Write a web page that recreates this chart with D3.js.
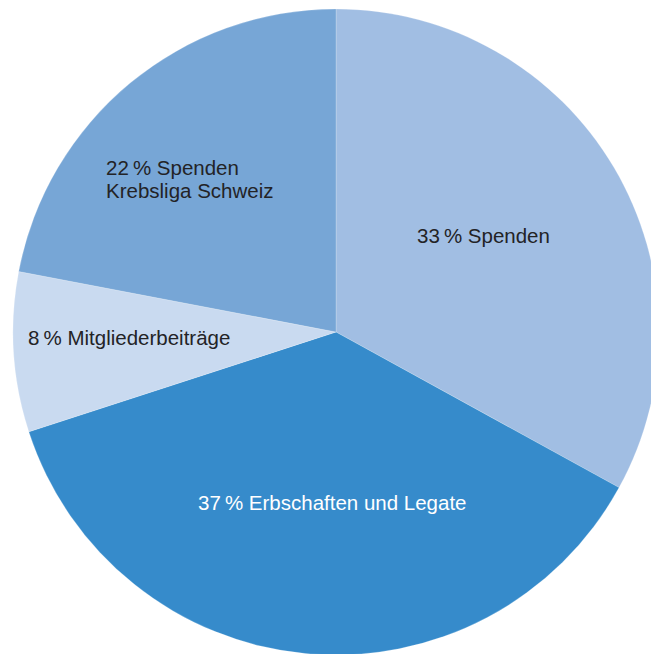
<!DOCTYPE html>
<html>
<head>
<meta charset="utf-8">
<script src="https://cdn.jsdelivr.net/npm/d3@7"></script>
<style>
  html, body { margin: 0; padding: 0; background: #fff; }
  svg { display: block; }
</style>
</head>
<body>
<svg id="chart" width="651" height="654"></svg>
<script>
// Data
const categories = ["Spenden", "Erbschaften und Legate", "Mitgliederbeiträge", "Spenden Krebsliga Schweiz"];
const values = [33, 37, 8, 22];
const labelLines = [
  ["33\u2009% Spenden"],
  ["37\u2009% Erbschaften und Legate"],
  ["8\u2009% Mitgliederbeiträge"],
  ["22\u2009% Spenden", "Krebsliga Schweiz"]
];
const colors = ["#a1bee3", "#368bcb", "#c9daf0", "#77a6d6"];
const textColors = ["#232326", "#ffffff", "#232326", "#232326"];

// Layout (label anchor offsets relative to pie center: left x, first baseline y)
const labelOffsets = [[81, -89], [-138, 178], [-308, 13], [-230, -157]];

const width = 651, height = 654;
const cx = 336, cy = 332, radius = 323;

const svg = d3.select("#chart");
const g = svg.append("g").attr("transform", `translate(${cx},${cy})`);

const data = categories.map((c, i) => ({ name: c, value: values[i], i }));
const pie = d3.pie().value(d => d.value).sort(null);
const arc = d3.arc().innerRadius(0).outerRadius(radius);
const arcs = pie(data);

g.selectAll("path.slice")
  .data(arcs)
  .join("path")
  .attr("class", "slice")
  .attr("d", arc)
  .attr("fill", d => colors[d.data.i])
  .attr("stroke", "#ffffff")
  .attr("stroke-opacity", 0.35)
  .attr("stroke-width", 0.6);

const labels = g.selectAll("text.lbl")
  .data(arcs)
  .join("text")
  .attr("class", "lbl")
  .attr("x", d => labelOffsets[d.data.i][0])
  .attr("y", d => labelOffsets[d.data.i][1])
  .attr("fill", d => textColors[d.data.i])
  .style("font-family", "'Liberation Sans', Arial, sans-serif")
  .style("font-size", "20.5px");

labels.selectAll("tspan")
  .data(d => labelLines[d.data.i].map(t => ({ t, x: labelOffsets[d.data.i][0] })))
  .join("tspan")
  .attr("x", d => d.x)
  .attr("dy", (d, j) => j === 0 ? 0 : 23)
  .text(d => d.t);
</script>
</body>
</html>
